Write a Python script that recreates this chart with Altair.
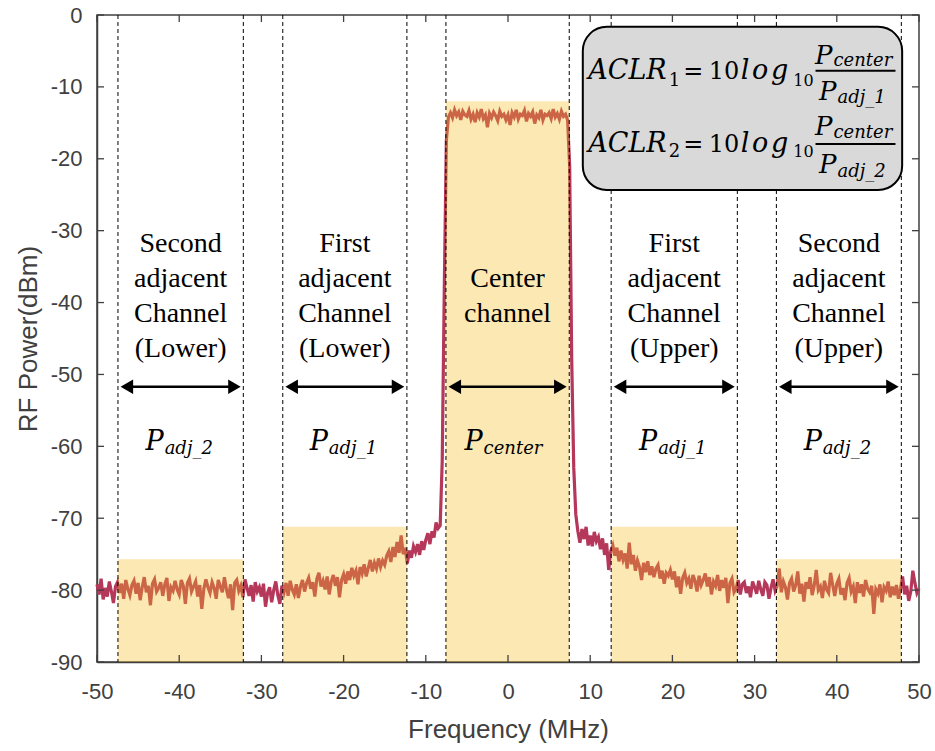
import altair as alt
import pandas as pd

# ---------------------------------------------------------------------------
# Spectrum analyser trace: sweep from -50 MHz to +50 MHz in 0.25 MHz steps
# ---------------------------------------------------------------------------
SWEEP_START_MHZ = -50.0
SWEEP_STEP_MHZ = 0.25

# measured power (dBm), 80 sweep points per 20 MHz span
POWER_M50_M30 = [
    -79.2, -80.6, -78.4, -81.3, -79.7, -80.9, -78.8, -80.2, -81.8, -79.5,
    -78.9, -80.4, -79.1, -81.2, -78.6, -79.8, -80.7, -79.3, -78.7, -80.5,
    -79.0, -81.4, -79.6, -78.2, -80.3, -79.4, -82.1, -79.1, -78.5, -80.2,
    -79.7, -78.9, -80.8, -79.2, -78.3, -81.5, -79.6, -80.1, -78.7, -79.9,
    -80.6, -78.6, -79.4, -81.9, -79.0, -78.4, -80.2, -79.5, -78.8, -80.9,
    -79.3, -82.6, -79.8, -78.5, -79.6, -80.4, -78.9, -79.7, -81.2, -78.6,
    -79.5, -80.3, -78.2, -79.9, -81.1, -79.2, -82.8, -79.0, -78.6, -80.1,
    -79.4, -81.0, -78.5, -79.7, -80.8, -79.3, -81.6, -78.9, -80.2, -79.6,
]
POWER_M30_M10 = [
    -80.9, -79.1, -82.3, -80.4, -79.6, -81.7, -80.0, -78.8, -80.7, -81.9,
    -79.4, -80.3, -79.0, -80.8, -78.7, -79.9, -80.6, -79.2, -81.1, -79.5,
    -78.6, -80.2, -79.0, -78.3, -79.8, -78.9, -80.9, -78.4, -77.6, -79.5,
    -78.7, -79.9, -78.1, -80.6, -78.8, -77.9, -79.4, -78.2, -81.0, -78.6,
    -77.8, -79.1, -77.4, -78.6, -76.9, -78.0, -77.3, -79.2, -76.8, -77.7,
    -76.4, -78.1, -76.9, -75.8, -77.4, -76.2, -77.0, -75.6, -76.8, -75.9,
    -76.5, -75.2, -74.6, -76.1, -74.0, -75.4, -73.3, -74.8, -72.4, -75.0,
    -74.1, -76.3, -74.5, -75.5, -73.9, -74.7, -73.6, -75.1, -73.2, -74.4,
]
POWER_M10_P10 = [
    -73.0, -72.1, -73.6, -71.8, -72.7, -70.6, -71.4, -71.0, -62.0, -38.0,
    -17.5, -14.2, -13.6, -14.3, -13.2, -14.0, -13.5, -14.6, -13.4, -13.9,
    -14.1, -13.3, -14.5, -13.8, -14.9, -13.6, -14.2, -13.1, -14.4, -13.9,
    -15.6, -13.7, -14.3, -13.5, -14.0, -14.7, -13.4, -14.1, -13.8, -14.6,
    -13.9, -15.3, -13.6, -14.2, -13.2, -14.5, -13.8, -14.0, -13.3, -14.8,
    -13.7, -14.1, -13.5, -15.1, -13.9, -14.3, -13.2, -14.6, -13.8, -14.0,
    -13.6, -14.4, -13.1, -14.2, -13.7, -14.5, -13.4, -14.1, -13.8, -14.6,
    -21.0, -48.0, -63.0, -69.5, -71.8, -73.4, -71.5, -72.9, -71.2, -73.8,
]
POWER_P10_P30 = [
    -72.4, -73.9, -71.9, -73.2, -72.6, -74.3, -72.8, -75.1, -73.5, -77.2,
    -74.6, -73.8, -75.2, -74.1, -76.0, -74.5, -75.8, -74.9, -77.0, -73.4,
    -76.4, -75.1, -77.3, -75.9, -76.8, -78.6, -76.2, -77.5, -76.0, -77.9,
    -76.7, -78.2, -77.0, -76.5, -78.4, -77.3, -79.1, -77.6, -78.0, -77.2,
    -78.5, -77.4, -79.6, -78.1, -80.5, -78.3, -77.6, -79.0, -78.4, -79.8,
    -77.9, -78.7, -80.2, -78.0, -79.3, -78.6, -77.7, -79.5, -78.2, -80.6,
    -78.8, -79.4, -77.9, -80.1, -78.6, -79.7, -78.3, -81.8, -79.0, -78.4,
    -80.3, -79.8, -78.6, -80.6, -79.2, -78.9, -80.4, -79.5, -81.0, -78.8,
]
POWER_P30_P50 = [
    -79.6, -80.5, -78.7, -79.9, -80.8, -78.9, -79.3, -81.2, -79.7, -78.5,
    -80.1, -79.4, -77.0, -80.3, -78.8, -79.6, -81.3, -79.0, -78.4, -80.2,
    -79.3, -77.4, -80.5, -79.1, -81.6, -78.9, -79.8, -78.2, -80.7, -79.4,
    -77.2, -80.0, -79.5, -81.1, -78.7, -79.9, -80.4, -77.6, -79.3, -80.8,
    -79.1, -78.4, -80.6, -79.7, -81.4, -79.0, -78.3, -80.2, -79.5, -81.8,
    -78.9, -80.4, -79.2, -80.9, -78.6, -79.8, -80.3, -79.4, -83.3, -79.9,
    -80.5, -79.2, -81.7, -79.6, -80.1, -78.8, -81.0, -79.5, -80.7, -79.3,
    -81.2, -79.8, -78.1, -80.6, -79.4, -81.5, -80.2, -77.3, -79.0, -80.4,
    -79.8,
]

# Channel bands (MHz) and the level of each integration window (dBm)
CHANNEL_EDGES_MHZ = [(-47.45, -32.2), (-27.4, -12.3), (-7.55, 7.45),
                     (12.55, 27.9), (32.65, 47.85)]
CHANNEL_TOP_DBM = [-75.7, -71.2, -12.0, -71.2, -75.7]
CHANNEL_LABELS = [
    ["Second", "adjacent", "Channel", "(Lower)"],
    ["First", "adjacent", "Channel", "(Lower)"],
    ["", "Center", "channel", ""],
    ["First", "adjacent", "Channel", "(Upper)"],
    ["Second", "adjacent", "Channel", "(Upper)"],
]
CHANNEL_POWER_SUB = ["adj_2", "adj_1", "center", "adj_1", "adj_2"]

X_TICKS = [-50, -40, -30, -20, -10, 0, 10, 20, 30, 40, 50]
Y_TICKS = [-90, -80, -70, -60, -50, -40, -30, -20, -10, 0]

# ---------------------------------------------------------------------------
# styling / layout
# ---------------------------------------------------------------------------
W, H = 822, 647
TRACE_COLOR = "#B5375A"
BAND_COLOR = "#F6BD23"
AXIS_COLOR = "#404040"
SANS = "Liberation Sans"
SERIF = "Liberation Serif"
MATH = "DejaVu Serif"

LABEL_BASELINES_DBM = [-32.92, -37.79, -42.65, -47.52]
ARROW_DBM = -51.7
ARROW_INSET_MHZ = 0.35
P_BASELINE_DBM = -60.5
P_SUB_BASELINE_DBM = -61.05

XS = alt.Scale(domain=[-50, 50], nice=False, zero=False)
YS = alt.Scale(domain=[-90, 0], nice=False, zero=False)

AXIS_STYLE = dict(labelExpr="'' + datum.value", ticks=False, tickSize=0, grid=False,
                  labelFlush=False, labelOverlap=False,
                  domainColor=AXIS_COLOR, domainWidth=1.5,
                  labelFont=SANS, labelFontSize=22, labelColor=AXIS_COLOR,
                  titleFont=SANS, titleFontSize=26, titleFontWeight="normal",
                  titleColor=AXIS_COLOR)
X_AXIS = alt.Axis(values=X_TICKS, labelPadding=19, title="Frequency (MHz)",
                  titlePadding=14, **AXIS_STYLE)
Y_AXIS = alt.Axis(values=Y_TICKS, labelPadding=15, title="RF Power(dBm)",
                  titlePadding=9, **AXIS_STYLE)


def xq(field):
    return alt.X(field, type="quantitative", scale=XS, axis=X_AXIS)


def yq(field):
    return alt.Y(field, type="quantitative", scale=YS, axis=Y_AXIS)


# ---------------------------------------------------------------------------
# trace
# ---------------------------------------------------------------------------
power = POWER_M50_M30 + POWER_M30_M10 + POWER_M10_P10 + POWER_P10_P30 + POWER_P30_P50
trace = pd.DataFrame({
    "freq": [SWEEP_START_MHZ + SWEEP_STEP_MHZ * i for i in range(len(power))],
    "power": power,
})

trace_layer = alt.Chart(trace).mark_line(color=TRACE_COLOR, strokeWidth=3.2).encode(
    x=xq("freq"), y=yq("power"),
)

# ---------------------------------------------------------------------------
# channel windows, boundaries, arrows and labels
# ---------------------------------------------------------------------------
bands = pd.DataFrame({
    "lo": [e[0] for e in CHANNEL_EDGES_MHZ],
    "hi": [e[1] for e in CHANNEL_EDGES_MHZ],
    "top": CHANNEL_TOP_DBM,
})
bands["mid"] = (bands["lo"] + bands["hi"]) / 2

band_layer = alt.Chart(bands).mark_rect(color=BAND_COLOR, opacity=0.35).encode(
    x=xq("lo"), x2="hi", y=yq("top"), y2=alt.datum(-90),
)

edges = pd.DataFrame({"edge": [v for e in CHANNEL_EDGES_MHZ for v in e]})
edge_layer = alt.Chart(edges).mark_rule(color="black", strokeWidth=1, strokeDash=[4, 3]).encode(
    x=xq("edge"),
)

arrows = pd.DataFrame({
    "a": bands["lo"] + ARROW_INSET_MHZ,
    "b": bands["hi"] - ARROW_INSET_MHZ,
    "y": [ARROW_DBM] * len(bands),
})
shaft_layer = alt.Chart(arrows).mark_rule(color="black", strokeWidth=2.5, xOffset=8, x2Offset=-8).encode(
    x=xq("a"), x2="b", y=yq("y"),
)
head_l = alt.Chart(arrows).mark_point(shape="triangle-left", filled=True, size=210, color="black",
                                      opacity=1, strokeWidth=0, xOffset=6).encode(x=xq("a"), y=yq("y"))
head_r = alt.Chart(arrows).mark_point(shape="triangle-right", filled=True, size=210, color="black",
                                      opacity=1, strokeWidth=0, xOffset=-6).encode(x=xq("b"), y=yq("y"))

label_rows = []
for mid, lines in zip(bands["mid"], CHANNEL_LABELS):
    for yb, t in zip(LABEL_BASELINES_DBM, lines):
        if t:
            label_rows.append({"x": mid, "y": yb, "t": t})
label_layer = alt.Chart(pd.DataFrame(label_rows)).mark_text(
    font=SERIF, fontSize=28, color="black", align="center", baseline="alphabetic",
).encode(x=xq("x"), y=yq("y"), text="t:N")


def power_label(sel, p_dx):
    df = pd.DataFrame({
        "x": [bands["mid"][i] for i in sel],
        "y": [P_BASELINE_DBM] * len(sel),
        "ys": [P_SUB_BASELINE_DBM] * len(sel),
        "p": ["P"] * len(sel),
        "s": [CHANNEL_POWER_SUB[i] for i in sel],
    })
    p = alt.Chart(df).mark_text(font=MATH, fontStyle="italic", fontSize=27, color="black",
                                align="right", baseline="alphabetic", dx=p_dx).encode(
        x=xq("x"), y=yq("y"), text="p:N")
    s = alt.Chart(df).mark_text(font=MATH, fontStyle="italic", fontSize=18, color="black",
                                align="left", baseline="alphabetic", dx=p_dx + 1).encode(
        x=xq("x"), y=yq("ys"), text="s:N")
    return [p, s]


power_layers = power_label([0, 1, 3, 4], -17) + power_label([2], -25)

# ---------------------------------------------------------------------------
# ACLR definitions in a rounded box
# ---------------------------------------------------------------------------
box = pd.DataFrame({"x": [9.1], "x2": [47.95], "y": [-1.65], "y2": [-24.35]})
box_layer = alt.Chart(box).mark_rect(fill="#D9D9D9", stroke="black", strokeWidth=2,
                                     cornerRadius=24).encode(
    x=xq("x"), x2="x2", y=yq("y"), y2="y2")

# (line 1, line 2) baselines in dBm
F_MAIN = [-8.97, -19.02]
F_SUB = [-9.81, -19.82]
F_NUM = [-6.75, -16.69]
F_NUM_SUB = [-7.16, -17.11]
F_BAR = [-7.75, -17.94]
F_DEN = [-11.82, -22.02]
F_DEN_SUB = [-12.31, -22.47]
F_INDEX = ["1", "2"]
F_DEN_TEXT = ["adj_1", "adj_2"]


def ftext(rows, **mark):
    df = pd.DataFrame(rows, columns=["x", "y", "t"])
    return alt.Chart(df).mark_text(color="black", baseline="alphabetic", **mark).encode(
        x=xq("x"), y=yq("y"), text="t:N")


formula_layers = [
    ftext([(19.30, y, "ACLR") for y in F_MAIN], font=MATH, fontStyle="italic", fontSize=27, align="right"),
    ftext([(19.55, y, k) for y, k in zip(F_SUB, F_INDEX)], font=MATH, fontSize=18, align="left"),
    ftext([(22.55, y, "=") for y in F_MAIN], font=MATH, fontSize=24, align="center"),
    ftext([(28.15, y, "10") for y in F_MAIN], font=MATH, fontSize=24, align="right"),
    ftext([(28.30, y, "l\u200ao\u200ag") for y in F_MAIN], font=MATH, fontStyle="italic", fontSize=27, align="left"),
    ftext([(34.70, y, "10") for y in F_SUB], font=MATH, fontSize=16, align="left"),
    ftext([(39.47, y, "P") for y in F_NUM], font=MATH, fontStyle="italic", fontSize=26, align="right"),
    ftext([(39.59, y, "center") for y in F_NUM_SUB], font=MATH, fontStyle="italic", fontSize=18, align="left"),
    ftext([(39.96, y, "P") for y in F_DEN], font=MATH, fontStyle="italic", fontSize=26, align="right"),
    ftext([(40.08, y, t) for y, t in zip(F_DEN_SUB, F_DEN_TEXT)], font=MATH, fontStyle="italic", fontSize=18, align="left"),
]
bars = pd.DataFrame({"a": [37.41, 37.41], "b": [47.14, 47.14], "y": F_BAR})
formula_layers.append(
    alt.Chart(bars).mark_rule(color="black", strokeWidth=2).encode(x=xq("a"), x2="b", y=yq("y"))
)

# ---------------------------------------------------------------------------
# inward tick marks on all four sides of the frame
# ---------------------------------------------------------------------------
xt = pd.DataFrame({"v": X_TICKS})
yt = pd.DataFrame({"v": Y_TICKS})
TICK = dict(color=AXIS_COLOR, strokeWidth=1.3)
tick_layers = [
    alt.Chart(xt).mark_rule(**TICK).encode(x=xq("v"), y=alt.value(H), y2=alt.value(H - 7)),
    alt.Chart(xt).mark_rule(**TICK).encode(x=xq("v"), y=alt.value(0), y2=alt.value(7)),
    alt.Chart(yt).mark_rule(**TICK).encode(y=yq("v"), x=alt.value(0), x2=alt.value(7)),
    alt.Chart(yt).mark_rule(**TICK).encode(y=yq("v"), x=alt.value(W), x2=alt.value(W - 7)),
]

chart = alt.layer(
    trace_layer, band_layer, edge_layer, box_layer,
    label_layer, shaft_layer, head_l, head_r,
    *power_layers, *formula_layers, *tick_layers,
).properties(
    width=W, height=H,
    autosize=alt.AutoSizeParams(type="none"),
    padding={"left": 97, "top": 15, "right": 16, "bottom": 89},
    background="white",
).configure_view(stroke=AXIS_COLOR, strokeWidth=1.5)

chart.save("out.html", embed_options={"renderer": "svg", "actions": False})
